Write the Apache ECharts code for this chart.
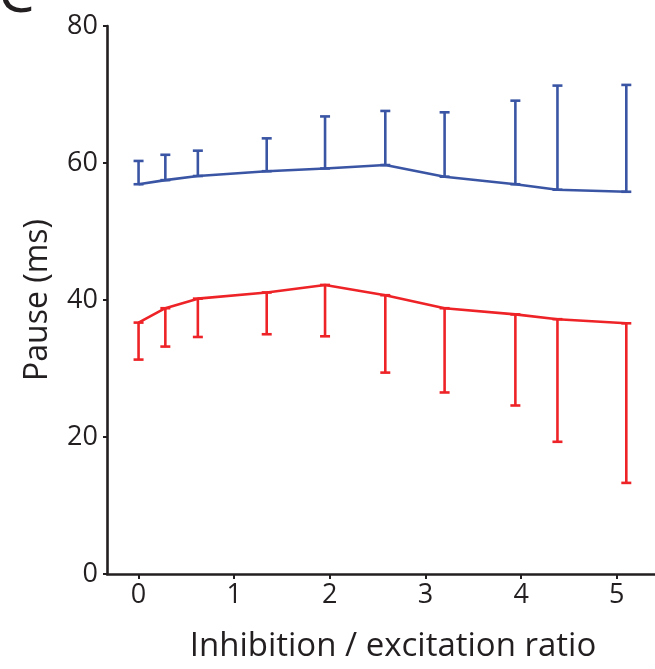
<!DOCTYPE html>
<html>
<head>
<meta charset="utf-8">
<script src="https://cdn.jsdelivr.net/npm/echarts@6/dist/echarts.min.js"></script>
<style>
  html, body { margin: 0; padding: 0; background: #fff; }
  #chart { width: 655px; height: 669px; }
</style>
</head>
<body>
<div id="chart"></div>
<script>
// x positions (inhibition / excitation ratio)
const ratios = [0.0, 0.28, 0.62, 1.34, 1.95, 2.58, 3.2, 3.94, 4.38, 5.1];

// blue: mean and upper error end
const blueMean = [56.9, 57.5, 58.1, 58.8, 59.2, 59.7, 58.0, 56.9, 56.1, 55.8];
const blueUpper = [60.3, 61.2, 61.8, 63.6, 66.8, 67.6, 67.4, 69.1, 71.3, 71.4];

// red: mean and lower error end
const redMean = [36.7, 38.8, 40.2, 41.1, 42.2, 40.7, 38.8, 37.9, 37.2, 36.6];
const redLower = [31.3, 33.2, 34.6, 35.0, 34.7, 29.4, 26.5, 24.6, 19.3, 13.3];

const xTicks = [0, 1, 2, 3, 4, 5];
const yTicks = [0, 20, 40, 60, 80];

const BLUE = '#3a55a4';
const RED = '#ee2327';
const INK = '#231f20';
const FONT = 'Open Sans';

const chart = echarts.init(document.getElementById('chart'));

function pairs(xs, ys) {
    return xs.map((x, i) => [x, ys[i]]);
}

// error bar: vertical line from mean to end, caps on both ends
function errorBar(color) {
    return function (params, api) {
        const x = api.value(0);
        const a = api.coord([x, api.value(1)]);
        const b = api.coord([x, api.value(2)]);
        const half = 5;
        const style = { stroke: color, lineWidth: 2.6, fill: null };
        return {
            type: 'group',
            children: [
                { type: 'line', shape: { x1: a[0], y1: a[1], x2: b[0], y2: b[1] }, style: style },
                { type: 'line', shape: { x1: b[0] - half, y1: b[1], x2: b[0] + half, y2: b[1] }, style: style },
                { type: 'line', shape: { x1: a[0] - half, y1: a[1], x2: a[0] + half, y2: a[1] }, style: style }
            ]
        };
    };
}

const option = {
    animation: false,
    grid: { left: 107, right: 0, top: 26, bottom: 95 },
    xAxis: {
        type: 'value',
        min: -0.33,
        max: 5.4,
        name: 'Inhibition / excitation ratio',
        nameLocation: 'middle',
        nameGap: 56,
        nameTextStyle: { fontFamily: FONT, fontSize: 33, color: INK, padding: [0, 0, 0, 24] },
        splitLine: { show: false },
        axisLine: { onZero: false, lineStyle: { color: INK, width: 2.6 } },
        axisTick: { show: true, customValues: xTicks, length: 5, lineStyle: { color: INK, width: 2 } },
        axisLabel: { customValues: xTicks, fontFamily: FONT, fontSize: 27, color: INK, margin: 8 }
    },
    yAxis: {
        type: 'value',
        min: 0,
        max: 80,
        interval: 20,
        name: 'Pause (ms)',
        nameLocation: 'middle',
        nameGap: 53,
        nameTextStyle: { fontFamily: FONT, fontSize: 32, color: INK },
        splitLine: { show: false },
        axisLine: { show: true, onZero: false, lineStyle: { color: INK, width: 2.6 } },
        axisTick: { show: true, length: 4, lineStyle: { color: INK, width: 2 } },
        axisLabel: { fontFamily: FONT, fontSize: 27, color: INK, margin: 9,
            formatter: v => yTicks.includes(v) ? String(v) : '' }
    },
    graphic: [{
        type: 'text',
        left: -2,
        top: -34,
        style: { text: 'C', fontFamily: FONT, fontSize: 58, fill: INK }
    }],
    series: [
        {
            type: 'line',
            data: pairs(ratios, blueMean),
            showSymbol: false,
            lineStyle: { color: BLUE, width: 2.6 },
            z: 3
        },
        {
            type: 'custom',
            data: ratios.map((x, i) => [x, blueMean[i], blueUpper[i]]),
            renderItem: errorBar(BLUE),
            z: 2
        },
        {
            type: 'line',
            data: pairs(ratios, redMean),
            showSymbol: false,
            lineStyle: { color: RED, width: 2.6 },
            z: 3
        },
        {
            type: 'custom',
            data: ratios.map((x, i) => [x, redMean[i], redLower[i]]),
            renderItem: errorBar(RED),
            z: 2
        }
    ]
};

chart.setOption(option);
</script>
</body>
</html>
